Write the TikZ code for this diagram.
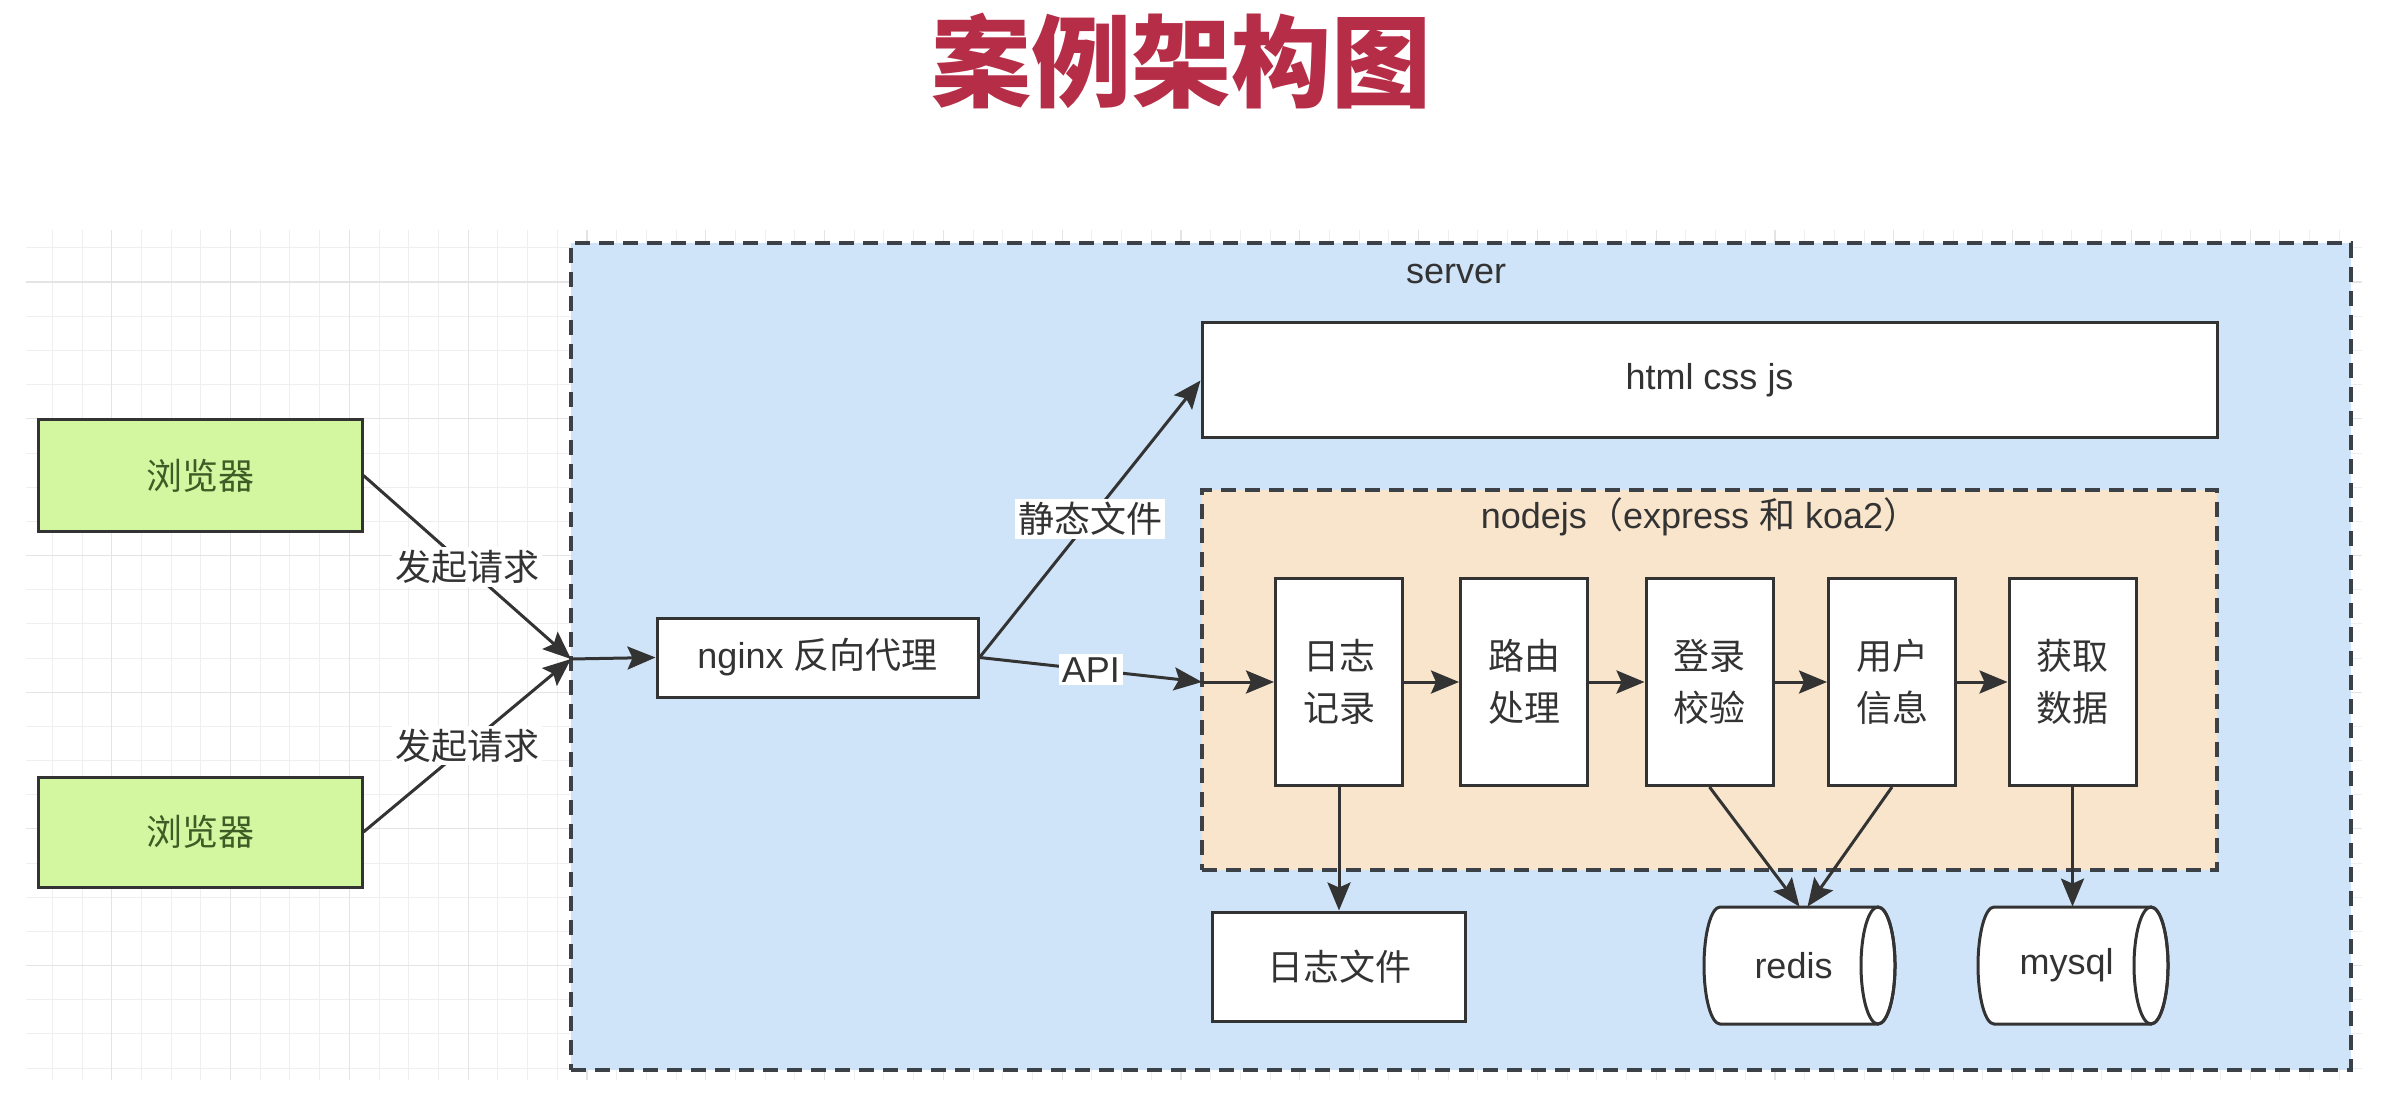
\documentclass[tikz,border=0pt]{standalone}
\usepackage{fontspec}
\setmainfont{Liberation Sans}
\newfontfamily\cjk{Noto Sans CJK SC}
\usetikzlibrary{arrows.meta}
\definecolor{linec}{HTML}{333333}
\definecolor{dashc}{HTML}{3C4047}
\definecolor{serverfill}{HTML}{D0E4F9}
\definecolor{nodefill}{HTML}{F8E5CC}
\definecolor{browserfill}{HTML}{D2F7A0}
\definecolor{browsertxt}{HTML}{3E5C25}
\definecolor{txtc}{HTML}{333333}
\definecolor{titlered}{HTML}{B52D46}
\definecolor{gridminor}{HTML}{EFEFEF}
\definecolor{gridmajor}{HTML}{E4E4E4}
\begin{document}
\begin{tikzpicture}[x=0.5pt,y=-0.5pt,
  txt/.style={font=\fontsize{18}{26}\selectfont, text=txtc},
  ctxt/.style={font=\fontsize{18}{26}\selectfont\cjk, text=txtc},
  box/.style={draw=linec, line width=1.5pt, fill=white, inner sep=0pt},
  cylbody/.style={draw=linec, line width=1.5pt, fill=white},
  arr/.style={draw=linec, line width=1.5pt, -{Stealth[length=14pt,width=11.5pt,inset=2.5pt]}},
  lbl/.style={fill=white, inner sep=1.5pt},
  grp/.style={draw=dashc, line width=2pt, dash pattern=on 7.5pt off 4.5pt, inner sep=0pt}]
\useasboundingbox (0,0) rectangle (2386,1106);
\fill[white] (0,0) rectangle (2386,1106);
% title
\node[text=titlered, font=\fontsize{50}{50}\selectfont\cjk\bfseries] (title) at (1181,61) {案例架构图};
% grid
\begin{scope}
\clip (26,230) rectangle (2362,1080);
\foreach \i in {0,...,80} {\draw[gridminor, line width=0.5pt] ({22.6+\i*29.7},230) -- ({22.6+\i*29.7},1080);}
\foreach \j in {-1,...,26} {\draw[gridminor, line width=0.5pt] (26,{248+\j*34.17}) -- (2362,{248+\j*34.17});}
\foreach \i in {0,...,20} {\draw[gridmajor, line width=0.6pt] ({111.7+\i*118.8},230) -- ({111.7+\i*118.8},1080);}
\foreach \j in {-1,...,6} {\draw[gridmajor, line width=0.6pt] (26,{282+\j*136.7}) -- (2362,{282+\j*136.7});}
\end{scope}
% server group
\node[grp, fill=serverfill, minimum width=890pt, minimum height=413.5pt] (server) at (1461,656.5) {};
\node[txt] (servertxt) at (1456,274) {server};
% html
\node[box, txt, minimum width=507.5pt, minimum height=57.5pt] (html) at (1709.5,380.5) {html css js};
% nodejs group
\node[grp, fill=nodefill, minimum width=507.5pt, minimum height=190pt] (nodejs) at (1709.5,680) {};
\node[txt] (nodejstxt) at (1700,517) {nodejs{\cjk （}express {\cjk 和} koa2{\cjk ）}};
% browsers
\node[box, ctxt, fill=browserfill, text=browsertxt, minimum width=162pt, minimum height=55.5pt] (b1) at (200,475.5) {浏览器};
\node[box, ctxt, fill=browserfill, text=browsertxt, minimum width=162pt, minimum height=55pt] (b2) at (200,832) {浏览器};
\coordinate (meet) at (571,659);
% nginx
\node[box, txt, minimum width=160.5pt, minimum height=39.5pt] (nginx) at (817.5,657.5) {nginx {\cjk 反向代理}};
\coordinate (apiin) at (1202,682);
% middleware chain
\node[box, ctxt, align=center, minimum width=63.5pt, minimum height=103.5pt] (m1) at (1339,682) {日志\\记录};
\node[box, ctxt, align=center, minimum width=63.5pt, minimum height=103.5pt] (m2) at (1524,682) {路由\\处理};
\node[box, ctxt, align=center, minimum width=63.5pt, minimum height=103.5pt] (m3) at (1709.5,682) {登录\\校验};
\node[box, ctxt, align=center, minimum width=63.5pt, minimum height=103.5pt] (m4) at (1892,682) {用户\\信息};
\node[box, ctxt, align=center, minimum width=63.5pt, minimum height=103.5pt] (m5) at (2072.5,682) {获取\\数据};
% storage
\node[box, ctxt, minimum width=126.5pt, minimum height=54.5pt] (logf) at (1339,966.5) {日志文件};
\path[cylbody] (1720,907) -- (1878,907) arc[start angle=90, end angle=-90, x radius=8.5pt, y radius=29.25pt] -- (1720,1024) arc[start angle=270, end angle=90, x radius=8pt, y radius=29.25pt] -- cycle;
\draw[draw=linec, line width=1.5pt] (1878,965.5) ellipse [x radius=8.5pt, y radius=29.25pt];
\node[txt, minimum width=95.5pt, minimum height=58.5pt, inner sep=0pt] (redis) at (1799.5,965.5) {\kern-6pt redis};
\path[cylbody] (1994,907) -- (2151,907) arc[start angle=90, end angle=-90, x radius=8.5pt, y radius=29.25pt] -- (1994,1024) arc[start angle=270, end angle=90, x radius=8pt, y radius=29.25pt] -- cycle;
\draw[draw=linec, line width=1.5pt] (2151,965.5) ellipse [x radius=8.5pt, y radius=29.25pt];
\node[txt, minimum width=95pt, minimum height=58.5pt, inner sep=0pt] (mysql) at (2072.5,965.5) {\kern-6pt mysql};
% connectors
\draw[arr] (b1.east) -- (meet) node[lbl, ctxt, pos=0.5] {发起请求};
\draw[arr] (b2.east) -- (meet) node[lbl, ctxt, pos=0.5] {发起请求};
\draw[arr] (meet) -- (nginx.west);
\draw[arr] (nginx.east) -- (html.west) node[lbl, ctxt, pos=0.5] {静态文件};
\draw[arr] (nginx.east) -- (apiin) node[lbl, txt, pos=0.5] {API};
\draw[arr] (apiin) -- (m1.west);
\draw[arr] (m1.east) -- (m2.west);
\draw[arr] (m2.east) -- (m3.west);
\draw[arr] (m3.east) -- (m4.west);
\draw[arr] (m4.east) -- (m5.west);
\draw[arr] (m1.south) -- (logf.north);
\draw[arr] (m3.south) -- ([xshift=0pt]redis.north);
\draw[arr] (m4.south) -- ([xshift=4pt]redis.north);
\draw[arr] (m5.south) -- (mysql.north);
\end{tikzpicture}
\end{document}
